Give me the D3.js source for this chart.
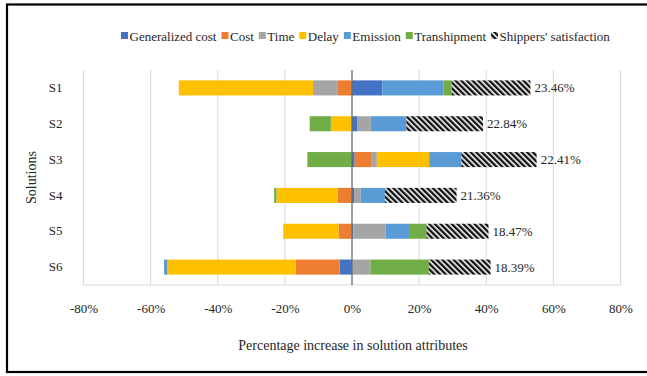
<!DOCTYPE html>
<html>
<head>
<meta charset="utf-8">
<script src="https://cdn.jsdelivr.net/npm/d3@7"></script>
<style>
  html, body { margin: 0; padding: 0; background: #fff; }
  svg { display: block; font-family: "Liberation Serif", "Times New Roman", serif; }
</style>
</head>
<body>
<svg id="chart" width="647" height="376"></svg>
<script>
// Solutions and the change (%) of each attribute
const categories = ["S1", "S2", "S3", "S4", "S5", "S6"];
const generalizedCost = [9.0, 1.5, 0.8, 0.6, 0.4, -3.7];
const cost = [-4.2, -0.2, 5.1, -4.3, -4.0, -13.1];
const time = [-7.4, 4.1, 1.5, 2.0, 9.6, 5.5];
const delay = [-40.0, -6.1, 15.6, -18.2, -16.5, -38.2];
const emission = [18.3, 10.6, 9.6, 7.2, 7.0, -1.0];
const transhipment = [2.4, -6.3, -13.3, -0.7, 5.2, 17.4];
const satisfaction = [23.46, 22.84, 22.41, 21.36, 18.47, 18.39];

const seriesNames = ["Generalized cost", "Cost", "Time", "Delay", "Emission", "Transhipment", "Shippers' satisfaction"];
const seriesValues = [generalizedCost, cost, time, delay, emission, transhipment, satisfaction];
const tickValues = [-80, -60, -40, -20, 0, 20, 40, 60, 80];

const colors = ["#4472C4", "#ED7D31", "#A5A5A5", "#FFC000", "#5B9BD5", "#70AD47", "url(#hatch)"];

const svg = d3.select("#chart");

// hatched fill for satisfaction
const defs = svg.append("defs");
const pat = defs.append("pattern")
  .attr("id", "hatch")
  .attr("patternUnits", "userSpaceOnUse")
  .attr("width", 4).attr("height", 4)
  .attr("patternTransform", "rotate(-45)");
pat.append("rect").attr("width", 4).attr("height", 4).attr("fill", "#fff");
pat.append("rect").attr("width", 2.4).attr("height", 4).attr("fill", "#111");

// frame
svg.append("rect")
  .attr("x", 7).attr("y", 4.5)
  .attr("width", 700).attr("height", 367.5)
  .attr("fill", "none").attr("stroke", "#000").attr("stroke-width", 2.2);

const plot = { left: 83.5, right: 620.5, top: 70, bottom: 285 };

const x = d3.scaleLinear().domain([-80, 80]).range([plot.left, plot.right]);
const y = d3.scaleBand().domain(categories).range([plot.top, plot.bottom]).paddingInner(0.58).paddingOuter(0.29);

// table rows for stacking
const rows = categories.map((c, i) => {
  const r = { cat: c };
  seriesNames.forEach((n, k) => { r[n] = seriesValues[k][i]; });
  return r;
});
const stacked = d3.stack().keys(seriesNames).offset(d3.stackOffsetDiverging)(rows);

// vertical gridlines
svg.append("g")
  .selectAll("line")
  .data(tickValues)
  .join("line")
  .attr("x1", d => x(d)).attr("x2", d => x(d))
  .attr("y1", plot.top).attr("y2", plot.bottom)
  .attr("stroke", "#D9D9D9").attr("stroke-width", 1);

// bottom baseline
svg.append("line")
  .attr("x1", plot.left).attr("x2", plot.right)
  .attr("y1", plot.bottom).attr("y2", plot.bottom)
  .attr("stroke", "#D9D9D9");

// bars
svg.append("g")
  .selectAll("g")
  .data(stacked)
  .join("g")
  .attr("fill", (d, i) => colors[i])
  .selectAll("rect")
  .data(d => d)
  .join("rect")
  .attr("x", d => x(Math.min(d[0], d[1])))
  .attr("width", d => Math.abs(x(d[1]) - x(d[0])))
  .attr("y", d => y(d.data.cat))
  .attr("height", y.bandwidth());

// zero axis line
svg.append("line")
  .attr("x1", x(0)).attr("x2", x(0))
  .attr("y1", plot.top).attr("y2", plot.bottom)
  .attr("stroke", "#6b6b6b").attr("stroke-width", 1.2);

// value labels at the end of the satisfaction segment
const last = stacked[stacked.length - 1];
svg.append("g")
  .selectAll("text")
  .data(last)
  .join("text")
  .attr("x", d => x(d[1]) + 4)
  .attr("y", d => y(d.data.cat) + y.bandwidth() / 2)
  .attr("dy", "0.35em")
  .attr("font-size", 13)
  .attr("fill", "#262626")
  .text((d, i) => satisfaction[i].toFixed(2) + "%");

// x axis tick labels
const xAxis = d3.axisBottom(x).tickValues(tickValues).tickSize(0).tickPadding(0)
  .tickFormat(d => d + "%");
const gx = svg.append("g").attr("transform", `translate(0,${plot.bottom + 19})`).call(xAxis);
gx.select(".domain").remove();
gx.selectAll("text").attr("font-size", 13).attr("fill", "#262626")
  .attr("font-family", "Liberation Serif, Times New Roman, serif");

// y axis category labels
const yAxis = d3.axisLeft(y).tickSize(0).tickPadding(0);
const gy = svg.append("g").attr("transform", `translate(${plot.left - 21},0)`).call(yAxis);
gy.select(".domain").remove();
gy.selectAll("text").attr("font-size", 13).attr("fill", "#262626")
  .attr("font-family", "Liberation Serif, Times New Roman, serif");

// axis titles
svg.append("text")
  .attr("x", (plot.left + plot.right) / 2 + 1)
  .attr("y", 350)
  .attr("text-anchor", "middle")
  .attr("font-size", 14)
  .attr("fill", "#262626")
  .text("Percentage increase in solution attributes");

svg.append("text")
  .attr("transform", `translate(36,${(plot.top + plot.bottom) / 2}) rotate(-90)`)
  .attr("text-anchor", "middle")
  .attr("font-size", 14)
  .attr("fill", "#262626")
  .text("Solutions");

// legend
const legend = svg.append("g").attr("transform", "translate(121,36)");
let lx = 0;
seriesNames.forEach((n, i) => {
  const g = legend.append("g").attr("transform", `translate(${lx},0)`);
  g.append("rect").attr("x", 0).attr("y", -4).attr("width", 7).attr("height", 7).attr("fill", colors[i]);
  const t = g.append("text").attr("x", 8.5).attr("y", 0).attr("dy", "0.35em")
    .attr("font-size", 13).attr("fill", "#262626").text(n);
  lx += 8.5 + t.node().getComputedTextLength() + 5;
});
</script>
</body>
</html>
